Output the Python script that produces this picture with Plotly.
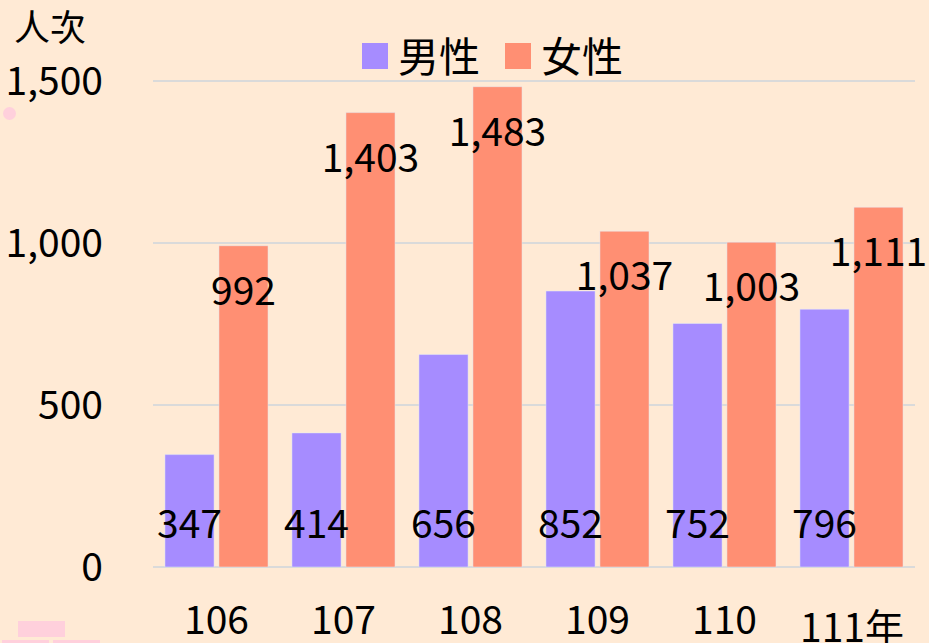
import plotly.graph_objects as go

years = ["106", "107", "108", "109", "110", "111"]
year_labels = ["106", "107", "108", "109", "110", "111年"]
male = [347, 414, 656, 852, 752, 796]
female = [992, 1403, 1483, 1037, 1003, 1111]
y_ticks = [0, 500, 1000, 1500]
y_tick_text = ["0", "500", "1,000", "1,500"]
series_names = ["男性", "女性"]

BG = "#FFEAD5"
C_M = "#A68CFF"
C_F = "#FF8F73"
FONT = "Noto Sans CJK TC, Noto Sans, sans-serif"
FS = 39

W, H = 929, 643
L, R, T, B = 153, 915, 65, 567


def px(xp):
    return (xp - L) / (R - L)


def py(yp):
    return (B - yp) / (B - T)


fig = go.Figure()
fig.add_trace(go.Bar(x=years, y=male, name=series_names[0], marker_color=C_M,
                     offsetgroup="m", showlegend=False, hoverinfo="skip"))
fig.add_trace(go.Bar(x=years, y=female, name=series_names[1], marker_color=C_F,
                     offsetgroup="f", showlegend=False, hoverinfo="skip"))

fmt = lambda v: f"{v:,}"
fig.add_trace(go.Scatter(x=years, y=[120] * len(male), mode="text",
                         text=[fmt(v) for v in male], textposition="middle center",
                         textfont=dict(size=FS, color="black", family=FONT),
                         offsetgroup="m", cliponaxis=False, showlegend=False,
                         hoverinfo="skip"))
fig.add_trace(go.Scatter(x=years, y=[v - 152 for v in female], mode="text",
                         text=[fmt(v) for v in female], textposition="middle center",
                         textfont=dict(size=FS, color="black", family=FONT),
                         offsetgroup="f", cliponaxis=False, showlegend=False,
                         hoverinfo="skip"))

annotations = []
for i, lab in enumerate(year_labels):
    annotations.append(dict(x=i, y=0, xref="x", yref="y", text=lab,
                            showarrow=False, yanchor="middle",
                            yshift=-50 if i < len(years) - 1 else -58,
                            font=dict(size=FS, color="black", family=FONT)))
annotations.append(dict(x=px(12), y=py(25), xref="paper", yref="paper", text="人次",
                        showarrow=False, xanchor="left", yanchor="middle",
                        font=dict(size=36, color="black", family=FONT)))
annotations.append(dict(x=px(396), y=py(54), xref="paper", yref="paper",
                        text=series_names[0], showarrow=False, xanchor="left",
                        yanchor="middle", font=dict(size=41, color="black", family=FONT)))
annotations.append(dict(x=px(539), y=py(54), xref="paper", yref="paper",
                        text=series_names[1], showarrow=False, xanchor="left",
                        yanchor="middle", font=dict(size=41, color="black", family=FONT)))

shapes = [
    dict(type="rect", xref="paper", yref="paper", x0=px(362), x1=px(388), y0=py(69), y1=py(43),
         fillcolor=C_M, line_width=0),
    dict(type="rect", xref="paper", yref="paper", x0=px(505), x1=px(531), y0=py(69), y1=py(43),
         fillcolor=C_F, line_width=0),
    dict(type="circle", xref="paper", yref="paper", x0=px(3), x1=px(16), y0=py(120), y1=py(107),
         fillcolor="#FFD0DC", line_width=0),
    dict(type="rect", xref="paper", yref="paper", x0=px(18), x1=px(65), y0=py(637), y1=py(621),
         fillcolor="#FFD0DC", line_width=0),
    dict(type="rect", xref="paper", yref="paper", x0=px(2), x1=px(49), y0=py(643), y1=py(640),
         fillcolor="#FFD0DC", line_width=0),
    dict(type="rect", xref="paper", yref="paper", x0=px(53), x1=px(100), y0=py(643), y1=py(640),
         fillcolor="#FFD0DC", line_width=0),
]

fig.update_layout(
    width=W, height=H,
    margin=dict(l=L, r=W - R, t=T, b=H - B, pad=0, autoexpand=False),
    paper_bgcolor=BG, plot_bgcolor=BG,
    barmode="group", bargap=0.15, bargroupgap=0.09,
    scattermode="group", scattergap=0.15,
    font=dict(family=FONT, size=FS, color="black"),
    annotations=annotations, shapes=shapes,
    xaxis=dict(type="category", categoryorder="array", categoryarray=years,
               range=[-0.5, len(years) - 0.5], automargin=False,
               showticklabels=False, showgrid=False, zeroline=False,
               showline=False, ticks=""),
    yaxis=dict(range=[0, 1550], tickvals=y_ticks, ticktext=y_tick_text,
               automargin=False,
               showgrid=True, gridcolor="#DADADA", gridwidth=2, zeroline=True,
               zerolinecolor="#DADADA", zerolinewidth=2, ticks="",
               ticklabelstandoff=49,
               tickfont=dict(size=FS, color="black", family=FONT)),
)

fig.write_html("out.html", config={"displayModeBar": False},
               post_script="document.body.style.margin='0';document.body.style.overflow='hidden';")
